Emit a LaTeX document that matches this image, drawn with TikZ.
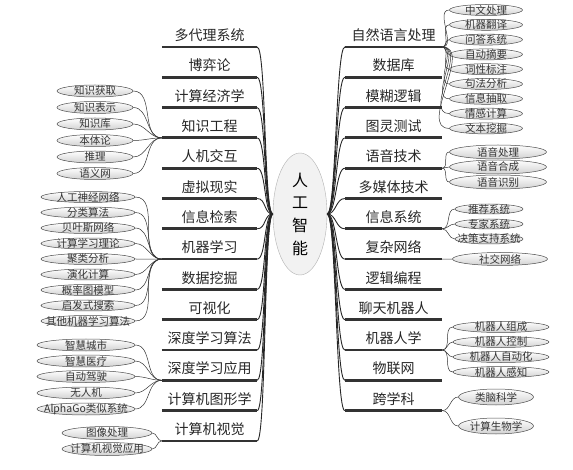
\documentclass[tikz,border=0pt]{standalone}
\usepackage{fontspec}
\setmainfont{Noto Sans CJK SC}
\usetikzlibrary{shapes.geometric}

\begin{document}
\begin{tikzpicture}[
    x=1pt, y=-1pt,
    branch/.style={anchor=south, inner xsep=0pt, inner ysep=5pt, font=\fontsize{14}{16}\selectfont, text=black!85},
    leaf/.style={ellipse, draw=black!70, line width=0.5pt, top color=white, bottom color=black!18, inner sep=0pt, label={[leaftxt]center:#1}},
    leaftxt/.style={font=\fontsize{10.5}{11}\selectfont, text=black!80, inner sep=0pt},
    bar/.style={line width=2.8pt, draw=black!80},
    trunk/.style={line width=0.9pt, draw=black!85},
    twig/.style={line width=0.5pt, draw=black!80}
]
\useasboundingbox (0,0) rectangle (573,470);

\node[ellipse, draw=black!30, fill=black!5, minimum width=54pt, minimum height=122pt, inner sep=0pt, align=center, font=\fontsize{16}{22.7}\selectfont] (ai) at (300,214) {人\\工\\智\\能};

% left branches
\node[branch, minimum width=95pt] (L1) at (209.5,47) {多代理系统};
\node[branch, minimum width=95pt] (L2) at (209.5,77.3) {博弈论};
\node[branch, minimum width=95pt] (L3) at (209.5,107.6) {计算经济学};
\node[branch, minimum width=95pt] (L4) at (209.5,137.9) {知识工程};
\node[branch, minimum width=95pt] (L5) at (209.5,168.2) {人机交互};
\node[branch, minimum width=95pt] (L6) at (209.5,198.5) {虚拟现实};
\node[branch, minimum width=95pt] (L7) at (209.5,228.8) {信息检索};
\node[branch, minimum width=95pt] (L8) at (209.5,259.1) {机器学习};
\node[branch, minimum width=95pt] (L9) at (209.5,289.4) {数据挖掘};
\node[branch, minimum width=95pt] (L10) at (209.5,319.7) {可视化};
\node[branch, minimum width=95pt] (L11) at (209.5,350) {深度学习算法};
\node[branch, minimum width=95pt] (L12) at (209.5,380.3) {深度学习应用};
\node[branch, minimum width=95pt] (L13) at (209.5,410.6) {计算机图形学};
\node[branch, minimum width=95pt] (L14) at (209.5,440.9) {计算机视觉};

% right branches
\node[branch, minimum width=97pt] (R1) at (393.5,47) {自然语言处理};
\node[branch, minimum width=97pt] (R2) at (393.5,77.3) {数据库};
\node[branch, minimum width=97pt] (R3) at (393.5,107.6) {模糊逻辑};
\node[branch, minimum width=97pt] (R4) at (393.5,137.9) {图灵测试};
\node[branch, minimum width=97pt] (R5) at (393.5,168.2) {语音技术};
\node[branch, minimum width=97pt] (R6) at (393.5,198.5) {多媒体技术};
\node[branch, minimum width=97pt] (R7) at (393.5,228.8) {信息系统};
\node[branch, minimum width=97pt] (R8) at (393.5,259.1) {复杂网络};
\node[branch, minimum width=97pt] (R9) at (393.5,289.4) {逻辑编程};
\node[branch, minimum width=97pt] (R10) at (393.5,319.7) {聊天机器人};
\node[branch, minimum width=97pt] (R11) at (393.5,350) {机器人学};
\node[branch, minimum width=97pt] (R12) at (393.5,380.3) {物联网};
\node[branch, minimum width=97pt] (R13) at (393.5,410.6) {跨学科};

% leaves, left side
\node[leaf=知识获取, minimum width=76pt, minimum height=12pt] (k1) at (95,91) {};
\node[leaf=知识表示, minimum width=76pt, minimum height=12pt] (k2) at (95,107.5) {};
\node[leaf=知识库, minimum width=76pt, minimum height=12pt] (k3) at (95,124) {};
\node[leaf=本体论, minimum width=76pt, minimum height=12pt] (k4) at (95,140.5) {};
\node[leaf=推理, minimum width=76pt, minimum height=12pt] (k5) at (95,157) {};
\node[leaf=语义网, minimum width=76pt, minimum height=12pt] (k6) at (95,173.5) {};

\node[leaf=人工神经网络, minimum width=94pt, minimum height=11pt] (m1) at (88,197) {};
\node[leaf=分类算法, minimum width=94pt, minimum height=11pt] (m2) at (88,212.5) {};
\node[leaf=贝叶斯网络, minimum width=94pt, minimum height=11pt] (m3) at (88,228) {};
\node[leaf=计算学习理论, minimum width=94pt, minimum height=11pt] (m4) at (88,243.5) {};
\node[leaf=聚类分析, minimum width=94pt, minimum height=11pt] (m5) at (88,259) {};
\node[leaf=演化计算, minimum width=94pt, minimum height=11pt] (m6) at (88,274.5) {};
\node[leaf=概率图模型, minimum width=94pt, minimum height=11pt] (m7) at (88,290) {};
\node[leaf=启发式搜索, minimum width=94pt, minimum height=11pt] (m8) at (88,305.5) {};
\node[leaf=其他机器学习算法, minimum width=94pt, minimum height=11pt] (m9) at (88,321) {};

\node[leaf=智慧城市, minimum width=98pt, minimum height=12pt] (d1) at (86,345) {};
\node[leaf=智慧医疗, minimum width=98pt, minimum height=12pt] (d2) at (86,361) {};
\node[leaf=自动驾驶, minimum width=98pt, minimum height=12pt] (d3) at (86,376.5) {};
\node[leaf=无人机, minimum width=98pt, minimum height=12pt] (d4) at (86,393) {};
\node[leaf=AlphaGo类似系统, minimum width=98pt, minimum height=12pt] (d5) at (86,409) {};

\node[leaf=图像处理, minimum width=90pt, minimum height=13pt] (v1) at (107,433) {};
\node[leaf=计算机视觉应用, minimum width=90pt, minimum height=13pt] (v2) at (107,449) {};

% leaves, right side
\node[leaf=中文处理, minimum width=73pt, minimum height=11pt] (n1) at (486,10) {};
\node[leaf=机器翻译, minimum width=73pt, minimum height=11pt] (n2) at (486,24.8) {};
\node[leaf=问答系统, minimum width=73pt, minimum height=11pt] (n3) at (486,39.6) {};
\node[leaf=自动摘要, minimum width=73pt, minimum height=11pt] (n4) at (486,54.4) {};
\node[leaf=词性标注, minimum width=73pt, minimum height=11pt] (n5) at (486,69.2) {};
\node[leaf=句法分析, minimum width=73pt, minimum height=11pt] (n6) at (486,84) {};
\node[leaf=信息抽取, minimum width=73pt, minimum height=11pt] (n7) at (486,98.8) {};
\node[leaf=情感计算, minimum width=73pt, minimum height=11pt] (n8) at (486,113.6) {};
\node[leaf=文本挖掘, minimum width=73pt, minimum height=11pt] (n9) at (486,128.4) {};

\node[leaf=语音处理, minimum width=97pt, minimum height=14pt] (s1) at (498,152) {};
\node[leaf=语音合成, minimum width=97pt, minimum height=14pt] (s2) at (498,167) {};
\node[leaf=语音识别, minimum width=97pt, minimum height=14pt] (s3) at (498,182) {};

\node[leaf=推荐系统, minimum width=68pt, minimum height=10pt] (i1) at (489,209) {};
\node[leaf=专家系统, minimum width=68pt, minimum height=10pt] (i2) at (489,224) {};
\node[leaf=决策支持系统, minimum width=68pt, minimum height=10pt] (i3) at (489,239) {};

\node[leaf=社交网络, minimum width=95pt, minimum height=13pt] (c1) at (500,259) {};

\node[leaf=机器人组成, minimum width=96pt, minimum height=11pt] (r1) at (501,327) {};
\node[leaf=机器人控制, minimum width=96pt, minimum height=11pt] (r2) at (501,342) {};
\node[leaf=机器人自动化, minimum width=96pt, minimum height=11pt] (r3) at (501,357) {};
\node[leaf=机器人感知, minimum width=96pt, minimum height=11pt] (r4) at (501,372) {};

\node[leaf=类脑科学, minimum width=75pt, minimum height=16pt] (x1) at (496,397) {};
\node[leaf=计算生物学, minimum width=75pt, minimum height=16pt] (x2) at (496,426) {};

% bars and trunks
\foreach \i in {1,...,14} {
  \draw[bar] (L\i.south west) -- (L\i.south east);
  \draw[trunk] (ai.west) .. controls +(-9,0) and +(9,0) .. (L\i.south east);
}
\foreach \i in {1,...,13} {
  \draw[bar] (R\i.south west) -- (R\i.south east);
  \draw[trunk] (ai.east) .. controls +(9,0) and +(-9,0) .. (R\i.south west);
}

% twigs
\foreach \j in {1,...,6} \draw[twig] (k\j.east) to[out=0, in=180] (L4.south west);
\foreach \j in {1,...,9} \draw[twig] (m\j.east) to[out=0, in=180] (L8.south west);
\foreach \j in {1,...,5} \draw[twig] (d\j.east) to[out=0, in=180] (L12.south west);
\foreach \j in {1,2} \draw[twig] (v\j.east) to[out=0, in=180] (L14.south west);
\foreach \j in {1,...,9} \draw[twig] (R1.south east) to[out=0, in=180] (n\j.west);
\foreach \j in {1,2,3} \draw[twig] (R5.south east) to[out=0, in=180] (s\j.west);
\foreach \j in {1,2,3} \draw[twig] (R7.south east) to[out=0, in=180] (i\j.west);
\draw[twig] (R8.south east) -- (c1.west);
\foreach \j in {1,...,4} \draw[twig] (R11.south east) to[out=0, in=180] (r\j.west);
\foreach \j in {1,2} \draw[twig] (R13.south east) to[out=0, in=180] (x\j.west);
\end{tikzpicture}
\end{document}
